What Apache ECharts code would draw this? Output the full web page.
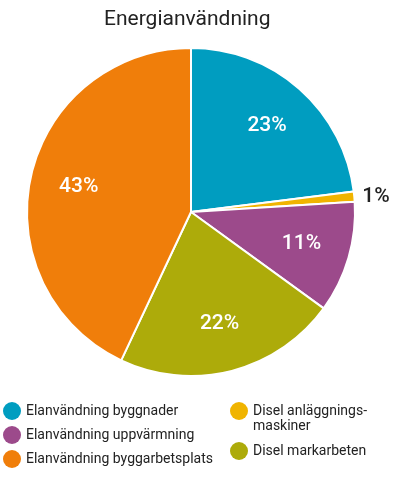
<!DOCTYPE html>
<html>
<head>
<meta charset="utf-8">
<script src="https://cdn.jsdelivr.net/npm/echarts@6/dist/echarts.min.js"></script>
<style>
    html, body {margin: 0; padding: 0; background: #fff;}
    #chart {width: 398px; height: 492px;}
</style>
</head>
<body>
<div id="chart"></div>
<script>
    var names = ['Elanvändning byggnader', 'Disel anläggningsmaskiner', 'Elanvändning uppvärmning', 'Disel markarbeten', 'Elanvändning byggarbetsplats'];
    var values = [23, 1, 11, 22, 43];
    var colors = ['#009dc0', '#f0b400', '#9c4a8b', '#adab0a', '#f07e0a'];
    var legendLeft = ['Elanvändning byggnader', 'Elanvändning uppvärmning', 'Elanvändning byggarbetsplats'];
    var legendRight = ['Disel anläggningsmaskiner', 'Disel markarbeten'];

    var font = 'Roboto';
    var chart = echarts.init(document.getElementById('chart'));

    var pieData = names.map(function (n, i) {
        return {
            name: n,
            value: values[i],
            itemStyle: {color: colors[i]},
            label: {show: values[i] < 5}
        };
    });
    var labelData = names.map(function (n, i) {
        return {
            name: n,
            value: values[i],
            label: {show: values[i] >= 5}
        };
    });

    var legendBase = {
        orient: 'vertical',
        top: 402,
        padding: 0,
        icon: 'circle',
        itemWidth: 18,
        itemHeight: 18,
        itemStyle: {borderWidth: 0},
        textStyle: {fontFamily: font, fontSize: 14, color: '#222'}
    };

    var option = {
        animation: false,
        title: {
            text: 'Energianvändning',
            left: 99,
            top: 4,
            textStyle: {fontFamily: font, fontSize: 21, fontWeight: 'normal', color: '#222'}
        },
        legend: [
            Object.assign({}, legendBase, {data: legendLeft, left: 3, itemGap: 6}),
            Object.assign({}, legendBase, {
                data: legendRight,
                left: 230,
                itemGap: 22,
                formatter: function (n) {
                    return n === 'Disel anläggningsmaskiner' ? 'Disel anläggnings-' : n;
                }
            })
        ],
        graphic: [{
            type: 'text',
            left: 253,
            top: 419,
            silent: true,
            style: {text: 'maskiner', fontFamily: font, fontSize: 14, fill: '#222'}
        }],
        series: [{
            type: 'pie',
            center: [191, 212],
            radius: [0, 164],
            startAngle: 90,
            clockwise: true,
            data: pieData,
            itemStyle: {borderColor: '#fff', borderWidth: 2},
            label: {
                position: 'outside',
                formatter: '{c}%',
                fontFamily: font,
                fontSize: 21,
                fontWeight: 500,
                color: '#222',
                alignTo: 'none',
                overflow: 'none',
                width: 60
            },
            labelLine: {show: false, length: 3, length2: 0}
        }, {
            type: 'pie',
            center: [191, 212],
            radius: [0, 224],
            startAngle: 90,
            clockwise: true,
            silent: true,
            legendHoverLink: false,
            data: labelData,
            itemStyle: {color: 'rgba(0,0,0,0)'},
            label: {
                position: 'inside',
                formatter: '{c}%',
                fontFamily: font,
                fontSize: 21,
                fontWeight: 500,
                color: '#fff'
            },
            labelLine: {show: false}
        }]
    };
    chart.setOption(option);
</script>
</body>
</html>
